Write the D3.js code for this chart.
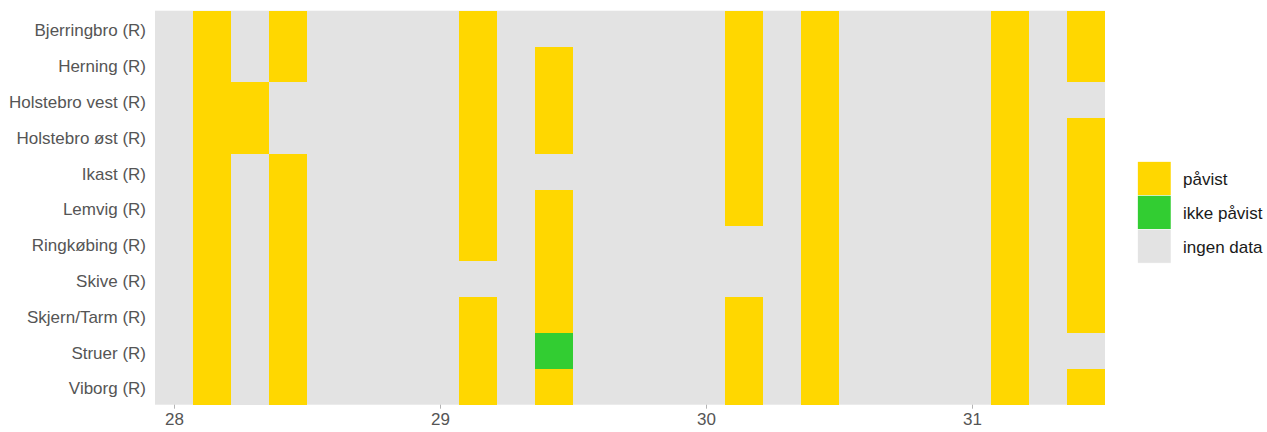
<!DOCTYPE html>
<head>
  <meta charset="utf-8">
  <script src="https://d3js.org/d3.v7.min.js"></script>
  <style>
    body { margin: 0; background: #fff; }
    text { font-family: 'Liberation Sans', Arial, sans-serif; }
    .y text { font-size: 17px; fill: #555; }
    .x text { font-size: 17px; fill: #555; }
    .x line { stroke: #b3b3b3; }
    .x path, .y path, .y line { display: none; }
    .legend text { font-size: 17px; fill: #1a1a1a; }
  </style>
</head>
<body>
  <script>
    // sites, top to bottom
    var sites = ["Bjerringbro (R)", "Herning (R)", "Holstebro vest (R)", "Holstebro øst (R)",
      "Ikast (R)", "Lemvig (R)", "Ringkøbing (R)", "Skive (R)", "Skjern/Tarm (R)",
      "Struer (R)", "Viborg (R)"];

    // sample days: week number + weekday (0 = monday)
    var sampleWeeks = [28, 28, 28, 29, 29, 30, 30, 31, 31];
    var sampleWeekdays = [1, 2, 3, 1, 3, 1, 3, 1, 3];

    // P = påvist, I = ikke påvist, - = ingen data
    var results = [
      ["P", "-", "P", "P", "-", "P", "P", "P", "P"],
      ["P", "-", "P", "P", "P", "P", "P", "P", "P"],
      ["P", "P", "-", "P", "P", "P", "P", "P", "-"],
      ["P", "P", "-", "P", "P", "P", "P", "P", "P"],
      ["P", "-", "P", "P", "-", "P", "P", "P", "P"],
      ["P", "-", "P", "P", "P", "P", "P", "P", "P"],
      ["P", "-", "P", "P", "P", "-", "P", "P", "P"],
      ["P", "-", "P", "-", "P", "-", "P", "P", "P"],
      ["P", "-", "P", "P", "P", "P", "P", "P", "P"],
      ["P", "-", "P", "P", "I", "P", "P", "P", "-"],
      ["P", "-", "P", "P", "P", "P", "P", "P", "P"]
    ];

    // first and last day on the axis (week, weekday)
    var firstDay = [28, 0];
    var lastDay = [31, 3];
    var xTicks = [28, 29, 30, 31];

    var statusCodes = ["P", "I", "-"];
    var statusLabels = ["påvist", "ikke påvist", "ingen data"];
    var statusColors = ["#ffd700", "#32cd32", "#e3e3e3"];

    var margin = { top: 10.7, right: 162, bottom: 27.3, left: 155 };
    var width = 1267 - margin.left - margin.right;
    var height = 432 - margin.top - margin.bottom;

    var svg = d3.select("body").append("svg")
        .attr("width", 1267)
        .attr("height", 432)
      .append("g")
        .attr("transform", "translate(" + margin.left + "," + margin.top + ")");

    var dayW = 1 / 7;
    var x = d3.scaleLinear()
        .domain([firstDay[0] + firstDay[1] * dayW - dayW / 2, lastDay[0] + lastDay[1] * dayW + dayW / 2])
        .range([0, width]);

    var y = d3.scaleBand()
        .domain(sites)
        .range([0, height]);

    var color = d3.scaleOrdinal()
        .domain(statusCodes)
        .range(statusColors);

    // panel background = ingen data
    svg.append("rect")
        .attr("x", 0)
        .attr("y", 0)
        .attr("width", width)
        .attr("height", height)
        .attr("fill", color("-"));

    var cells = [];
    sites.forEach(function(s, i) {
      sampleWeeks.forEach(function(w, j) {
        cells.push({ site: s, day: w + sampleWeekdays[j] * dayW, status: results[i][j] });
      });
    });

    svg.selectAll(".cell")
        .data(cells)
      .enter().append("rect")
        .attr("class", "cell")
        .attr("x", function(d) { return x(d.day - dayW / 2); })
        .attr("y", function(d) { return y(d.site); })
        .attr("width", x(dayW) - x(0))
        .attr("height", y.bandwidth())
        .attr("fill", function(d) { return color(d.status); })
        .attr("shape-rendering", "crispEdges");

    svg.append("g")
        .attr("class", "x axis")
        .attr("transform", "translate(0," + height + ")")
        .call(d3.axisBottom(x).tickValues(xTicks).tickFormat(d3.format("d")).tickSize(4).tickPadding(4));

    svg.append("g")
        .attr("class", "y axis")
        .call(d3.axisLeft(y).tickSize(0).tickPadding(9))
      .selectAll("text")
        .attr("dy", "0.45em");

    var legend = svg.append("g")
        .attr("class", "legend")
        .attr("transform", "translate(" + (width + 32.7) + "," + (161.7 - margin.top) + ")");

    var key = legend.selectAll(".key")
        .data(statusCodes)
      .enter().append("g")
        .attr("class", "key")
        .attr("transform", function(d, i) { return "translate(0," + (i * 33.8) + ")"; });

    key.append("rect")
        .attr("width", 33.3)
        .attr("height", 33.8)
        .attr("fill", function(d) { return color(d); })
        .attr("stroke", "#fff")
        .attr("stroke-width", 0.5);

    key.append("text")
        .attr("x", 45.3)
        .attr("y", 17)
        .attr("dy", "0.4em")
        .text(function(d, i) { return statusLabels[i]; });
  </script>
</body>
